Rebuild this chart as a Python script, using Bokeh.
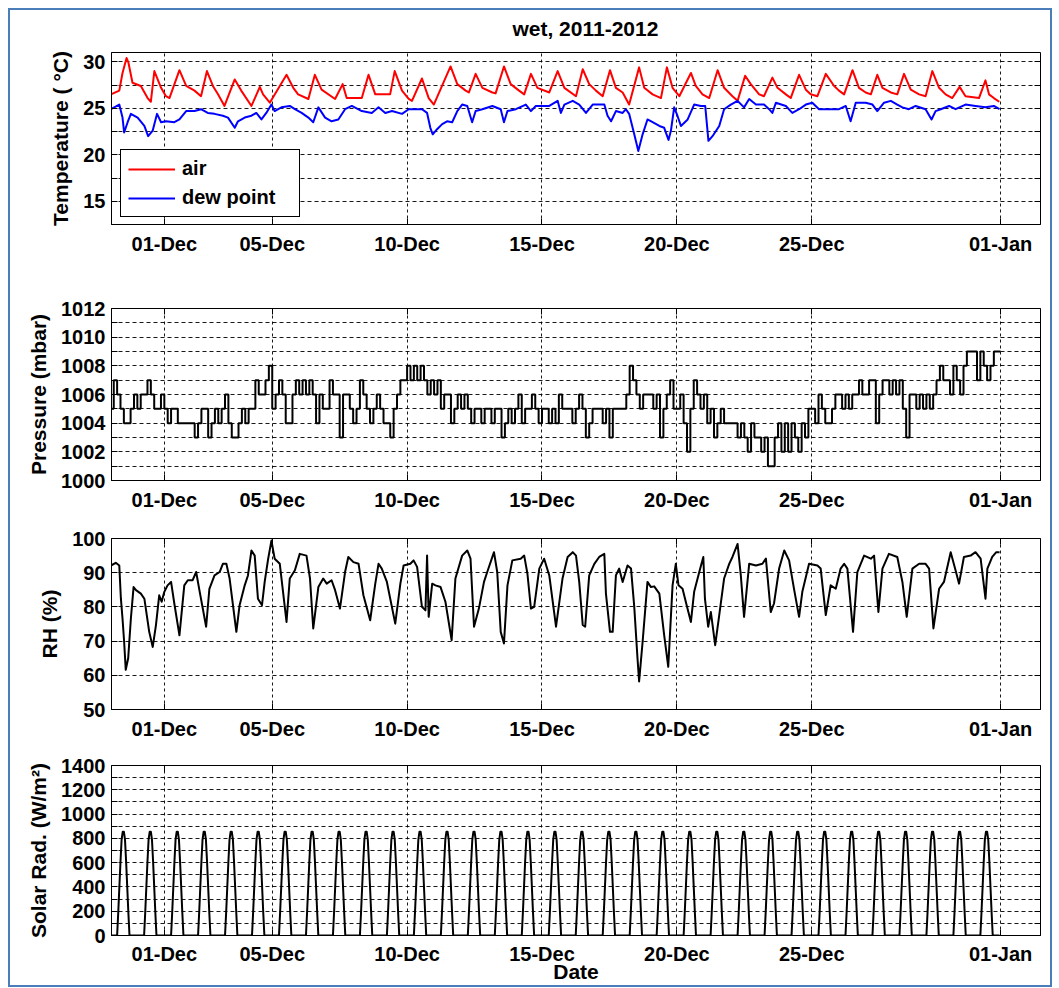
from datetime import datetime, timedelta
from bokeh.plotting import figure
from bokeh.layouts import column
from bokeh.models import (Range1d, FixedTicker, DatetimeTickFormatter, LinearAxis,
                          DatetimeAxis, Legend, LegendItem, CustomJSTickFormatter, Label)
from bokeh.embed import file_html
from bokeh.resources import INLINE

# ---------------- data (time = days since 2011-11-29 00:00) ----------------
air_pts = [(0.02,26.5),(0.33,26.9),(0.45,28.8),(0.60,30.4),(0.67,29.9),(0.82,27.75),(1.13,27.4),(1.38,26.1),(1.50,25.7),
 (1.63,29.0),(1.88,27.2),(2.06,26.3),(2.19,26.1),(2.56,29.1),(2.81,27.4),(3.12,26.9),(3.36,26.3),(3.58,29.0),(3.80,27.4),
 (3.99,26.5),(4.23,25.25),(4.61,28.1),(4.85,26.9),(5.23,25.25),(5.54,27.3),(5.66,26.5),(5.91,25.6),(6.53,28.6),(6.78,27.2),
 (6.96,26.5),(7.34,26.0),(7.58,28.6),(7.83,27.0),(8.33,26.0),(8.61,27.6),(8.76,26.1),(9.32,26.1),(9.57,28.6),(9.82,26.5),
 (10.37,26.5),(10.54,29.0),(10.81,26.9),(11.06,26.0),(11.18,25.8),(11.55,28.2),(11.80,26.1),(11.99,25.4),(12.61,29.5),
 (12.86,27.6),(13.17,26.9),(13.29,26.7),(13.54,28.7),(13.79,27.2),(14.16,26.7),(14.28,26.6),(14.59,29.5),(14.84,27.6),
 (15.15,26.9),(15.34,26.5),(15.59,28.7),(15.83,27.2),(16.27,26.7),(16.58,29.0),(16.83,27.2),(17.26,26.3),(17.51,29.2),
 (17.75,27.6),(18.00,26.9),(18.25,26.3),(18.52,29.1),(18.74,27.2),(18.99,26.7),(19.23,25.4),(19.60,29.4),(19.79,27.2),
 (20.10,26.5),(20.41,26.1),(20.63,29.4),(20.84,27.2),(21.09,26.3),(21.52,28.8),(21.70,27.4),(21.95,26.5),(22.20,26.1),
 (22.51,29.1),(22.75,27.2),(23.06,26.3),(23.25,25.8),(23.53,28.5),(23.74,27.6),(24.05,26.5),(24.23,26.3),(24.54,28.3),
 (24.73,27.2),(25.04,26.5),(25.22,26.1),(25.53,28.6),(25.78,27.0),(25.96,26.5),(26.21,26.3),(26.52,28.7),(26.83,27.4),
 (27.01,26.9),(27.20,26.5),(27.51,29.1),(27.75,27.2),(28.00,26.7),(28.19,26.5),(28.43,28.6),(28.62,27.2),(28.93,26.7),
 (29.17,26.5),(29.42,28.7),(29.67,27.0),(29.98,26.5),(30.22,26.3),(30.47,29.0),(30.72,27.2),(30.96,26.5),(31.21,26.1),
 (31.48,27.3),(31.70,26.3),(32.20,26.1),(32.44,28.0),(32.57,26.5),(32.75,26.1),(32.95,25.7)]

dew_pts = [(0.02,24.9),(0.33,25.4),(0.45,24.0),(0.51,22.4),(0.64,23.5),(0.76,24.4),(1.01,24.0),(1.26,23.1),(1.40,22.0),
 (1.57,22.6),(1.73,24.4),(1.88,23.5),(2.06,23.6),(2.37,23.5),(2.56,23.8),(2.81,24.7),(3.12,24.7),(3.36,24.9),(3.61,24.5),
 (3.86,24.4),(4.17,24.2),(4.36,24.0),(4.61,22.9),(4.73,23.6),(4.98,24.0),(5.23,24.2),(5.41,24.5),(5.60,23.8),(5.78,24.5),
 (5.97,25.4),(6.09,24.7),(6.34,25.1),(6.65,25.25),(6.84,24.9),(7.09,24.5),(7.34,24.0),(7.52,23.5),(7.71,25.1),(7.96,24.0),
 (8.20,23.6),(8.45,23.8),(8.70,24.9),(8.95,25.25),(9.32,24.7),(9.69,24.5),(9.94,25.1),(10.19,24.5),(10.44,24.7),
 (10.81,24.4),(11.06,24.9),(11.55,24.9),(11.74,24.5),(11.86,22.9),(11.95,22.2),(12.11,22.75),(12.30,23.3),(12.48,23.6),
 (12.67,23.5),(12.86,24.7),(13.04,25.4),(13.23,25.25),(13.41,23.5),(13.54,24.7),(13.79,24.9),(14.16,25.25),(14.47,24.9),
 (14.59,23.5),(14.72,24.7),(15.03,24.9),(15.40,25.4),(15.59,24.7),(15.77,25.25),(16.02,25.25),(16.27,25.25),(16.58,25.8),
 (16.70,24.5),(16.83,25.4),(17.14,25.8),(17.38,25.4),(17.63,24.5),(17.88,25.4),(18.12,25.4),(18.31,25.4),(18.43,24.2),
 (18.56,23.6),(18.74,24.7),(18.99,24.5),(19.11,24.9),(19.23,24.4),(19.42,22.2),(19.57,20.4),(19.73,22.2),(19.91,23.8),
 (20.10,23.5),(20.35,23.1),(20.53,22.9),(20.69,21.6),(20.78,22.6),(20.90,25.1),(21.02,24.2),(21.15,23.1),(21.40,23.8),
 (21.64,25.4),(21.89,25.25),(22.05,25.25),(22.17,21.5),(22.32,22.0),(22.57,23.1),(22.75,24.9),(23.00,25.4),(23.25,25.8),
 (23.49,25.1),(23.68,26.0),(23.93,25.4),(24.23,25.4),(24.42,24.9),(24.54,24.5),(24.67,25.6),(25.04,25.25),(25.28,24.5),
 (25.53,24.9),(25.78,25.4),(26.02,25.6),(26.27,24.9),(26.64,24.9),(27.01,24.9),(27.26,25.25),(27.44,23.6),(27.63,25.6),
 (28.00,25.6),(28.25,25.4),(28.43,24.7),(28.68,25.6),(28.93,25.8),(29.17,25.4),(29.36,25.1),(29.60,24.9),(29.85,25.25),
 (30.22,24.9),(30.44,23.8),(30.59,24.7),(30.78,24.9),(31.09,25.25),(31.33,24.9),(31.70,25.4),(32.07,25.25),(32.44,25.1),
 (32.75,25.25),(32.96,24.9)]

# pressure, mbar, every 3 hours, one row per day (Nov 29 .. Dec 31)
pressure_3h = [
 [1005,1007,1006,1005,1004,1004,1005,1006],[1005,1006,1006,1007,1006,1005,1005,1006],
 [1005,1004,1005,1005,1004,1004,1004,1004],[1004,1003,1004,1005,1005,1003,1004,1005],
 [1004,1005,1006,1004,1003,1003,1004,1005],[1004,1005,1005,1007,1006,1006,1007,1008],
 [1005,1006,1007,1006,1004,1004,1006,1007],[1006,1007,1006,1007,1006,1004,1006,1005],
 [1005,1007,1006,1006,1003,1006,1006,1005],[1004,1005,1007,1006,1005,1004,1005,1006],
 [1005,1004,1004,1003,1005,1006,1007,1007],[1008,1007,1008,1007,1008,1007,1006,1007],
 [1006,1007,1005,1006,1006,1004,1005,1006],[1005,1006,1005,1004,1005,1005,1004,1005],
 [1005,1004,1005,1005,1003,1004,1005,1004],[1005,1006,1004,1005,1005,1006,1005,1004],
 [1005,1005,1004,1005,1004,1006,1005,1005],[1005,1004,1005,1006,1005,1003,1004,1005],
 [1005,1005,1004,1005,1003,1005,1005,1005],[1005,1006,1008,1007,1006,1005,1006,1006],
 [1006,1005,1006,1003,1005,1006,1007,1005],[1005,1006,1004,1002,1005,1007,1006,1005],
 [1006,1004,1005,1003,1004,1005,1004,1004],[1004,1004,1003,1004,1003,1002,1004,1003],
 [1003,1002,1003,1001,1001,1003,1004,1002],[1004,1002,1004,1003,1002,1004,1003,1005],
 [1005,1004,1006,1005,1004,1004,1005,1006],[1006,1005,1006,1005,1006,1006,1007,1006],
 [1006,1007,1007,1004,1006,1007,1007,1006],[1007,1006,1007,1005,1003,1006,1006,1005],
 [1006,1005,1006,1005,1006,1007,1008,1007],[1007,1006,1008,1007,1006,1008,1009,1009],
 [1009,1007,1009,1008,1007,1008,1009,1009]]

rh_pts = [(0.02,92.1),(0.20,92.9),(0.33,92.1),(0.39,82.4),(0.45,76.6),(0.51,69.8),(0.57,61.6),(0.66,65.0),(0.76,76.6),
 (0.86,85.8),(0.95,84.9),(1.13,83.9),(1.26,82.4),(1.44,72.7),(1.57,68.3),(1.69,74.7),(1.81,83.4),(1.90,81.5),(2.00,84.4),
 (2.12,86.3),(2.25,87.3),(2.37,81.0),(2.56,71.7),(2.74,86.3),(2.87,87.8),(3.05,87.8),(3.18,90.2),(3.30,84.9),(3.55,74.2),
 (3.67,85.3),(3.86,89.2),(4.05,90.2),(4.17,92.6),(4.30,92.6),(4.42,88.3),(4.67,72.7),(4.79,80.5),(4.98,86.3),(5.10,89.2),
 (5.23,96.5),(5.35,95.0),(5.47,82.4),(5.62,80.5),(5.72,87.3),(5.85,94.1),(5.97,99.4),(6.09,94.1),(6.28,92.6),(6.53,75.6),
 (6.65,88.3),(6.84,90.7),(7.02,95.5),(7.27,95.0),(7.40,88.3),(7.52,73.7),(7.71,85.8),(7.89,88.3),(8.02,86.8),(8.20,87.8),
 (8.33,84.9),(8.51,79.5),(8.70,90.2),(8.82,94.6),(9.01,93.1),(9.20,92.6),(9.38,83.4),(9.63,76.1),(9.82,86.8),(9.94,92.6),
 (10.06,91.2),(10.25,87.3),(10.56,75.1),(10.75,86.8),(10.87,92.1),(11.12,92.6),(11.24,93.6),(11.37,91.7),(11.55,80.0),
 (11.68,79.0),(11.74,95.0),(11.80,77.1),(11.93,86.8),(12.05,86.3),(12.24,85.8),(12.42,81.5),(12.65,70.3),(12.79,88.3),
 (13.04,95.0),(13.23,96.5),(13.35,94.1),(13.48,74.2),(13.66,79.5),(13.85,87.3),(13.97,90.2),(14.22,96.0),(14.34,90.2),
 (14.47,72.7),(14.59,69.3),(14.72,86.3),(14.90,93.6),(15.21,94.1),(15.34,95.0),(15.46,89.7),(15.59,79.5),(15.71,80.0),
 (15.90,91.2),(16.08,94.1),(16.27,89.2),(16.52,74.2),(16.76,88.3),(16.95,94.6),(17.14,96.0),(17.26,95.0),(17.38,87.3),
 (17.51,74.7),(17.60,74.2),(17.75,89.2),(17.94,92.6),(18.12,94.6),(18.31,95.5),(18.37,83.9),(18.52,72.7),(18.62,72.7),
 (18.74,89.2),(18.86,91.2),(18.99,87.3),(19.17,92.1),(19.30,91.2),(19.42,80.0),(19.54,65.0),(19.60,58.2),(19.73,69.8),
 (19.91,87.3),(20.04,85.8),(20.16,86.0),(20.35,83.9),(20.53,71.7),(20.68,62.5),(20.84,86.3),(20.96,92.6),(21.06,86.3),
 (21.21,85.3),(21.33,81.5),(21.52,75.6),(21.64,84.4),(21.83,90.2),(21.98,94.6),(22.04,82.4),(22.16,74.2),(22.26,78.5),
 (22.42,68.8),(22.57,77.6),(22.75,88.3),(22.94,92.6),(23.06,94.6),(23.25,98.4),(23.37,89.2),(23.49,77.1),(23.68,92.6),
 (23.93,92.1),(24.17,92.6),(24.30,94.1),(24.48,78.5),(24.60,81.0),(24.79,91.2),(24.98,96.5),(25.16,93.6),(25.35,84.9),
 (25.53,77.1),(25.65,84.4),(25.90,92.6),(26.21,92.1),(26.33,91.2),(26.52,77.6),(26.70,86.3),(26.89,85.3),(27.07,91.2),
 (27.20,92.6),(27.32,91.2),(27.53,72.7),(27.69,90.2),(27.94,95.0),(28.19,94.1),(28.31,95.0),(28.47,78.5),(28.62,91.2),
 (28.86,95.5),(29.17,94.6),(29.36,87.3),(29.52,77.1),(29.73,91.2),(29.98,92.6),(30.22,92.6),(30.35,91.2),(30.51,73.7),
 (30.72,85.3),(30.90,87.3),(31.15,96.0),(31.33,90.7),(31.46,86.8),(31.64,94.6),(31.89,95.0),(32.07,96.0),(32.26,94.1),
 (32.44,82.4),(32.51,91.2),(32.69,94.6),(32.84,96.0),(32.96,96.0)]

# hourly solar radiation of one day (W/m^2), the same curve every day of the record
solar_day = [0,0,0,0,0,0,0,190,400,610,790,855,855,790,610,400,190,0,0,0,0,0,0,0]
n_solar_days = 33

x_tick_dates = [datetime(2011,12,1), datetime(2011,12,5), datetime(2011,12,10), datetime(2011,12,15),
                datetime(2011,12,20), datetime(2011,12,25), datetime(2012,1,1)]

TITLE = "wet, 2011-2012"

# ---------------- helpers ----------------
START = datetime(2011, 11, 29)
EPOCH = datetime(1970, 1, 1)
def to_dt(ds):
    return [START + timedelta(days=d) for d in ds]
def ms(t):
    return (t - EPOCH).total_seconds() * 1000.0

air_t = to_dt([a for a, _ in air_pts]); air_v = [b for _, b in air_pts]
dew_t = to_dt([a for a, _ in dew_pts]); dew_v = [b for _, b in dew_pts]
rh_t = to_dt([a for a, _ in rh_pts]); rh_v = [b for _, b in rh_pts]
p_vals = [v for row in pressure_3h for v in row]
p_t = [START + timedelta(hours=3 * i) for i in range(len(p_vals))]
p_t.append(START + timedelta(hours=3 * len(p_vals))); p_vals.append(p_vals[-1])
s_vals = solar_day * n_solar_days
s_t = [START + timedelta(hours=i) for i in range(len(s_vals))]

FONT = "Liberation Sans"
XT = [ms(t) for t in x_tick_dates]
x_range = Range1d(start=START + timedelta(hours=1), end=datetime(2012, 1, 2, 11, 30))

def blank_fmt():
    return CustomJSTickFormatter(code="return ''")

def panel(frame_h, top, bottom, yr, major, minor, ylabel, top_axis=True):
    p = figure(x_axis_type="datetime", x_range=x_range, y_range=Range1d(*yr),
               frame_width=929, frame_height=frame_h,
               min_border_left=101, min_border_right=10, min_border_top=top, min_border_bottom=bottom,
               output_backend="svg", toolbar_location=None)
    p.background_fill_color = "white"
    p.border_fill_color = "white"
    p.outline_line_color = "black"
    p.outline_line_alpha = 1.0
    p.outline_line_width = 1
    xa = p.xaxis[0]
    xa.ticker = FixedTicker(ticks=XT)
    xa.formatter = DatetimeTickFormatter(days="%d-%b", months="%d-%b", years="%d-%b",
                                         hours="%d-%b", hourmin="%d-%b")
    ya = p.yaxis[0]
    ya.ticker = FixedTicker(ticks=major, minor_ticks=minor)
    ya.axis_label = ylabel
    for ax in (xa, ya):
        ax.major_label_text_font = FONT
        ax.major_label_text_font_style = "bold"
        ax.major_label_text_font_size = "20px"
        ax.major_label_text_color = "black"
        ax.axis_line_color = "black"
        ax.major_tick_in = 6
        ax.major_tick_out = 0
        ax.minor_tick_in = 6
        ax.minor_tick_out = 0
        ax.major_tick_line_color = "black"
        ax.minor_tick_line_color = "black"
        ax.axis_label_text_font = FONT
        ax.axis_label_text_font_style = "bold"
        ax.axis_label_text_font_size = "21px"
        ax.axis_label_text_color = "black"
    xa.major_label_standoff = 8
    ya.major_label_standoff = 6
    ya.axis_label_standoff = 8
    # box ticks on the right and on top
    ra = LinearAxis(ticker=FixedTicker(ticks=major, minor_ticks=minor), formatter=blank_fmt(),
                    major_tick_in=6, major_tick_out=0, minor_tick_in=6, minor_tick_out=0,
                    major_label_standoff=0, axis_line_color=None)
    p.add_layout(ra, "right")
    if top_axis:
        ta = DatetimeAxis(ticker=FixedTicker(ticks=XT), formatter=blank_fmt(),
                          major_tick_in=6, major_tick_out=0, major_label_standoff=0, axis_line_color=None)
        p.add_layout(ta, "above")
    for g, dash in ((p.xgrid[0], "3 3"), (p.ygrid[0], "4 3")):
        g.grid_line_color = "black"
        g.grid_line_dash = dash
        g.grid_line_width = 1
        g.grid_line_alpha = 0.9
    p.ygrid[0].minor_grid_line_color = "black"
    p.ygrid[0].minor_grid_line_dash = "4 3"
    p.ygrid[0].minor_grid_line_alpha = 0.9
    return p, xa

# ---------------- title strip ----------------
pt = figure(width=1040, height=34, x_range=Range1d(0, 1), y_range=Range1d(0, 1),
            x_axis_location=None, y_axis_location=None,
            min_border=0, output_backend="svg", toolbar_location=None)
pt.grid.visible = False
pt.outline_line_color = None
pt.background_fill_color = "white"
pt.border_fill_color = "white"
pt.add_layout(Label(x=0.5101, y=0.47, text=TITLE, text_align="center", text_baseline="middle",
                    text_font=FONT, text_font_style="bold", text_font_size="21px", text_color="black"))

# ---------------- panel 1: temperature ----------------
p1, _ = panel(172, 8, 40, (12.5, 31.0), [15, 20, 25, 30], [17.5, 22.5, 27.5], "Temperature ( °C)",
              top_axis=False)
r_air = p1.line(air_t, air_v, line_color="#FF0000", line_width=2, line_join="round")
r_dew = p1.line(dew_t, dew_v, line_color="#0000FF", line_width=2, line_join="round")
leg = Legend(items=[LegendItem(label="air", renderers=[r_air]),
                    LegendItem(label="dew point", renderers=[r_dew])],
             location=(9, 7), orientation="vertical")
leg.border_line_color = "black"
leg.border_line_width = 1
leg.border_line_alpha = 1
leg.background_fill_color = "white"
leg.background_fill_alpha = 1
leg.label_text_font = FONT
leg.label_text_font_style = "bold"
leg.label_text_font_size = "20px"
leg.label_text_color = "black"
leg.glyph_width = 47
leg.glyph_height = 20
leg.label_height = 22
leg.label_width = 110
leg.label_standoff = 7
leg.padding = 7
leg.spacing = 6
leg.margin = 0
p1.add_layout(leg)

# ---------------- panel 2: pressure ----------------
p2, _ = panel(172, 44, 33, (1000, 1012), [1000, 1002, 1004, 1006, 1008, 1010, 1012],
              [1001, 1003, 1005, 1007, 1009, 1011], "Pressure (mbar)")
p2.step(p_t, p_vals, mode="after", line_color="black", line_width=2)

# ---------------- panel 3: relative humidity ----------------
p3, _ = panel(171, 25, 33, (50, 100), [50, 60, 70, 80, 90, 100], [], "RH (%)")
p3.line(rh_t, rh_v, line_color="black", line_width=2, line_join="round")

# ---------------- panel 4: solar radiation ----------------
p4, xa4 = panel(170, 23, 46, (0, 1400), [0, 200, 400, 600, 800, 1000, 1200, 1400],
                [100, 300, 500, 700, 900, 1100, 1300], "Solar Rad. (W/m²)")
xa4.axis_label = "Date"
xa4.major_label_standoff = 7
xa4.axis_label_standoff = -8
p4.line(s_t, s_vals, line_color="black", line_width=2, line_join="round")

layout = column(pt, p1, p2, p3, p4, spacing=0, margin=(8, 0, 0, 8),
                styles={"border": "2px solid #4A7EBB"})

open("out.html", "w").write(file_html(layout, INLINE))
